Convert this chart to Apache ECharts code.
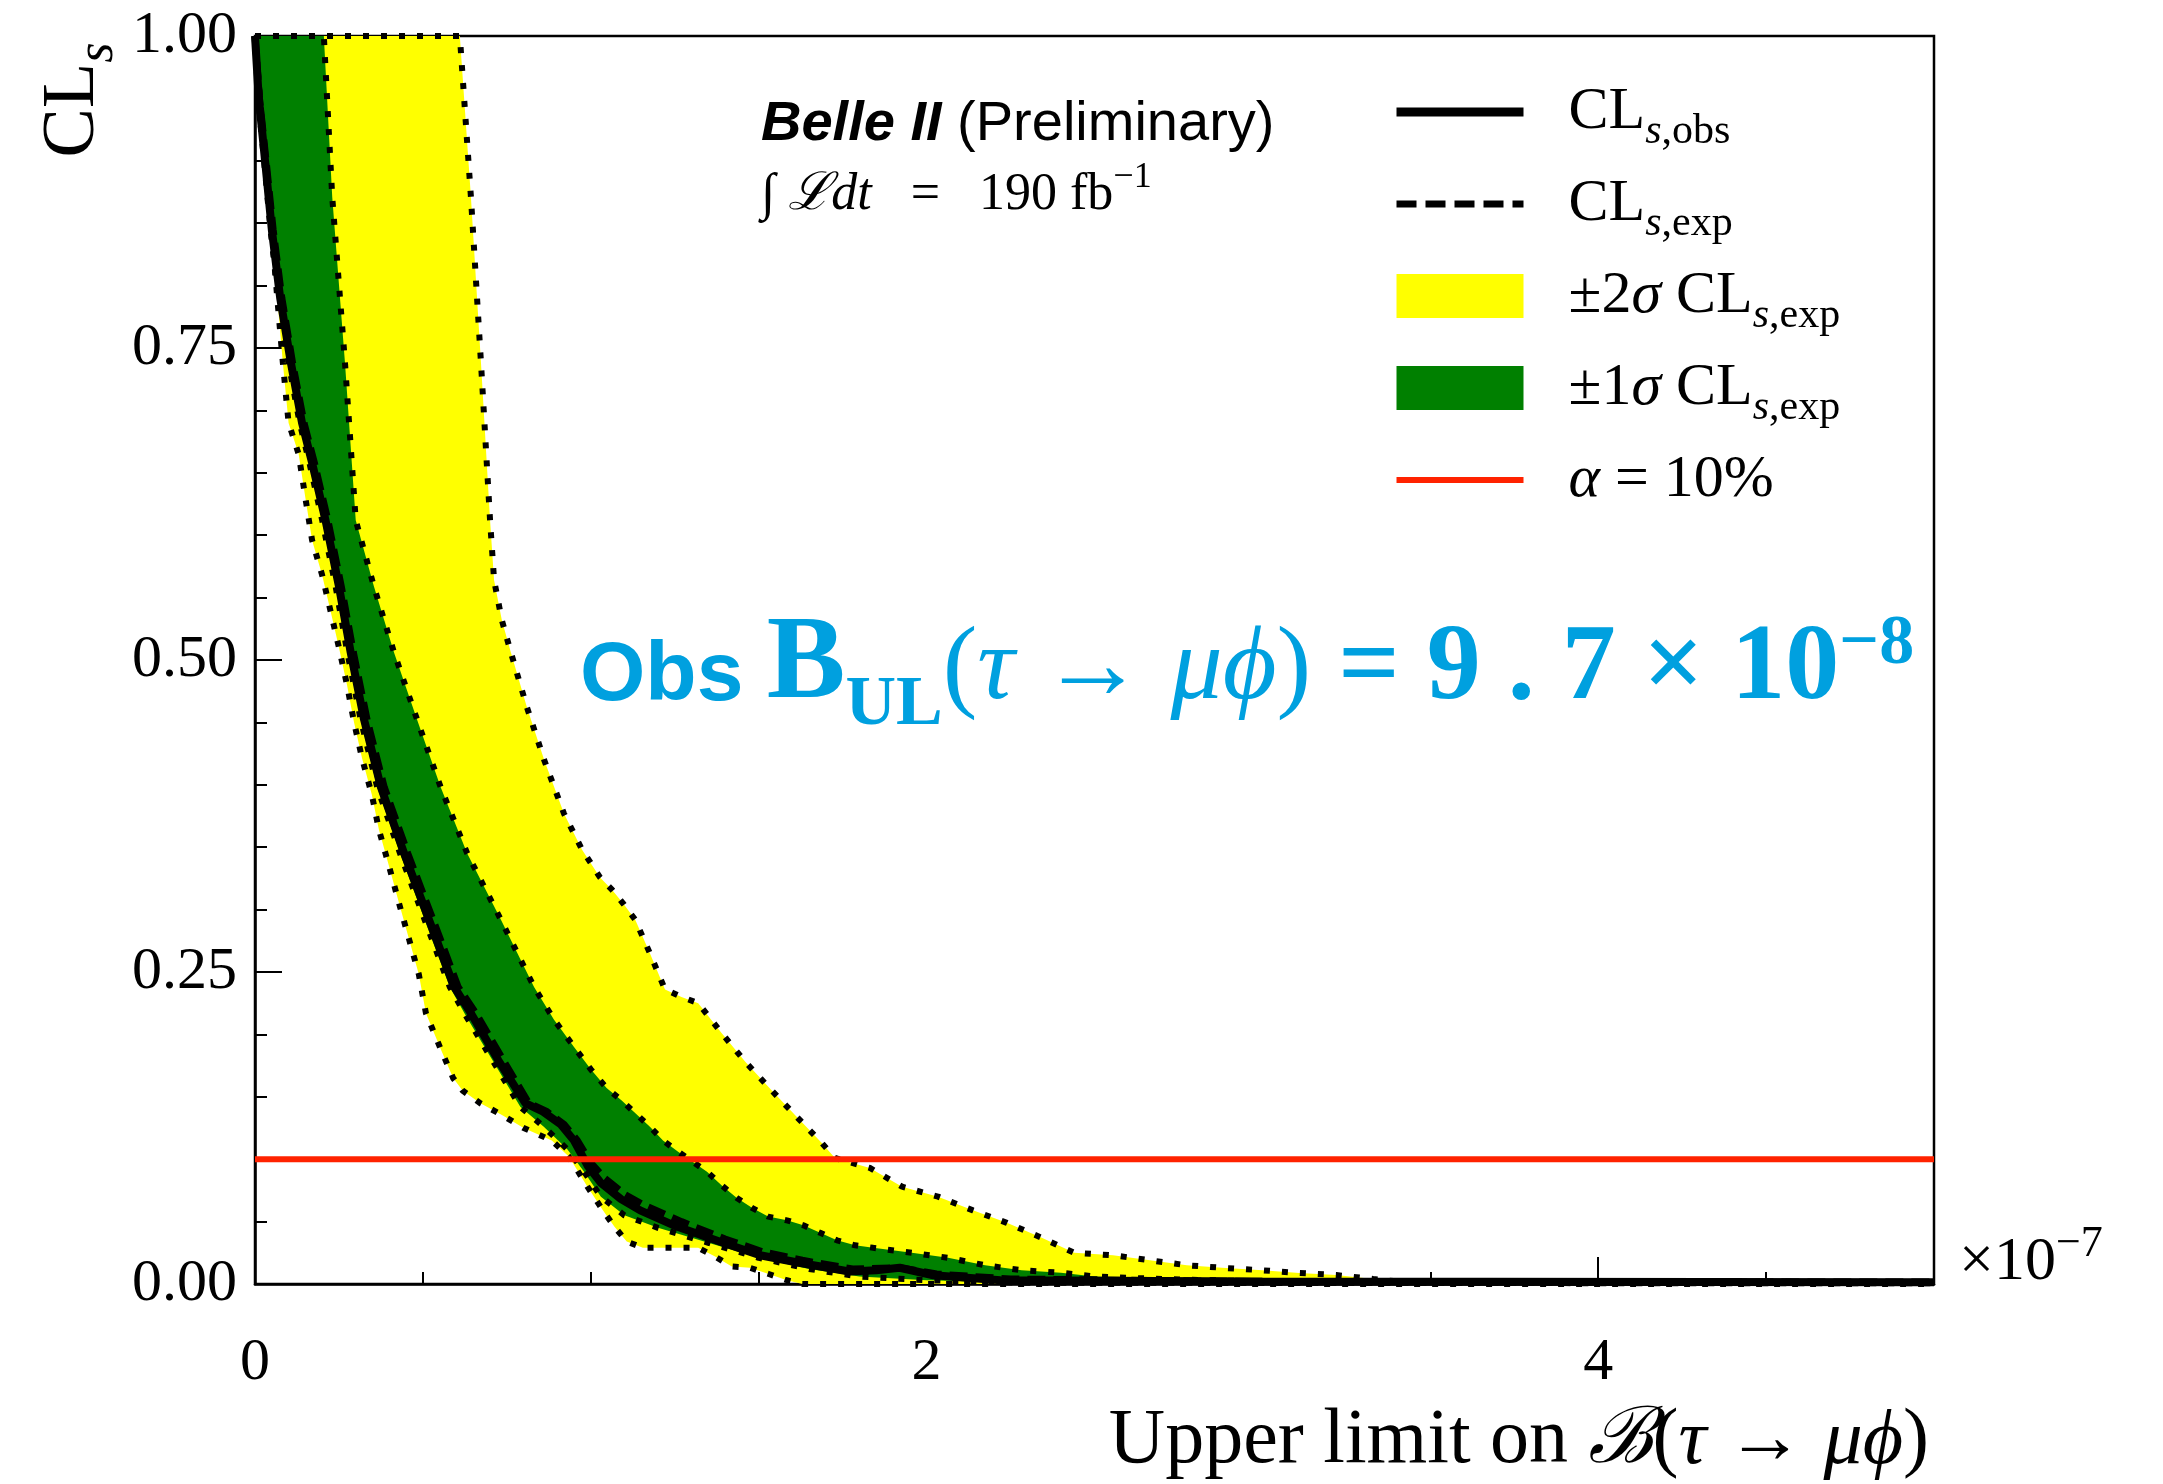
<!DOCTYPE html>
<html>
<head>
<meta charset="utf-8">
<title>CLs scan, tau -> mu phi</title>
<script src="https://cdn.jsdelivr.net/npm/echarts@6.0.0/dist/echarts.min.js"></script>
<style>
  html, body { margin: 0; padding: 0; background: #fff; }
  #chart { width: 2163px; height: 1484px; }
</style>
</head>
<body>
<div id="chart"></div>
<script>
// x in units of 1e-7, y = CLs
const obs = [[0, 1], [0.011, 0.951], [0.03, 0.9], [0.05, 0.845], [0.075, 0.79], [0.107, 0.738], [0.14, 0.69], [0.17, 0.658], [0.21, 0.612], [0.25, 0.559], [0.285, 0.506], [0.325, 0.452], [0.375, 0.398], [0.444, 0.345], [0.518, 0.292], [0.593, 0.238], [0.645, 0.216], [0.725, 0.179], [0.805, 0.145], [0.858, 0.138], [0.91, 0.128], [0.95, 0.115], [0.99, 0.095], [1.03, 0.081], [1.09, 0.068], [1.147, 0.059], [1.256, 0.046], [1.394, 0.033], [1.504, 0.023], [1.62, 0.017], [1.77, 0.01], [1.85, 0.011], [1.92, 0.013], [2.02, 0.007], [2.22, 0.003], [3, 0.002], [5, 0.0015]]
const exp = [[0, 1], [0.013, 0.951], [0.033, 0.9], [0.054, 0.845], [0.08, 0.79], [0.112, 0.738], [0.146, 0.69], [0.177, 0.658], [0.217, 0.612], [0.257, 0.559], [0.293, 0.506], [0.334, 0.452], [0.385, 0.398], [0.455, 0.345], [0.53, 0.292], [0.605, 0.238], [0.66, 0.216], [0.74, 0.179], [0.815, 0.145], [0.87, 0.138], [0.92, 0.128], [0.96, 0.115], [1.0, 0.097], [1.04, 0.085], [1.1, 0.072], [1.16, 0.063], [1.27, 0.05], [1.4, 0.036], [1.51, 0.026], [1.63, 0.019], [1.78, 0.012], [1.92, 0.013], [2.03, 0.008], [2.25, 0.004], [3, 0.002], [5, 0.0015]]
const up2 = [[0, 1], [0.61, 1], [0.643, 0.871], [0.673, 0.738], [0.70, 0.612], [0.712, 0.564], [0.735, 0.532], [0.762, 0.506], [0.81, 0.462], [0.861, 0.42], [0.92, 0.377], [0.974, 0.348], [1.027, 0.326], [1.063, 0.316], [1.096, 0.305], [1.132, 0.292], [1.176, 0.265], [1.221, 0.236], [1.27, 0.23], [1.32, 0.225], [1.39, 0.201], [1.46, 0.178], [1.539, 0.155], [1.613, 0.134], [1.688, 0.113], [1.727, 0.101], [1.831, 0.093], [1.927, 0.078], [2.034, 0.07], [2.138, 0.059], [2.239, 0.049], [2.343, 0.037], [2.44, 0.025], [2.555, 0.023], [2.665, 0.019], [2.775, 0.015], [2.88, 0.013], [3.0, 0.011], [3.11, 0.0088], [3.22, 0.0072], [3.33, 0.004], [3.39, 0.0024], [4, 0.002], [5, 0.0015]]
const up1 = [[0, 1], [0.205, 1], [0.23, 0.871], [0.268, 0.738], [0.30, 0.612], [0.354, 0.559], [0.414, 0.506], [0.483, 0.452], [0.553, 0.398], [0.632, 0.345], [0.732, 0.292], [0.831, 0.238], [0.89, 0.212], [0.95, 0.19], [1.0, 0.172], [1.047, 0.157], [1.092, 0.147], [1.132, 0.137], [1.176, 0.126], [1.215, 0.115], [1.26, 0.106], [1.346, 0.09], [1.39, 0.079], [1.435, 0.069], [1.48, 0.061], [1.528, 0.054], [1.584, 0.051], [1.633, 0.047], [1.683, 0.041], [1.733, 0.035], [1.787, 0.031], [1.841, 0.029], [1.956, 0.025], [2.064, 0.021], [2.174, 0.015], [2.283, 0.011], [2.4, 0.009], [2.5, 0.006], [2.7, 0.004], [3.0, 0.002], [5, 0.001]]
const lo1 = [[0, 1], [0.009, 0.951], [0.027, 0.9], [0.046, 0.845], [0.07, 0.79], [0.1, 0.738], [0.133, 0.69], [0.162, 0.658], [0.2, 0.612], [0.24, 0.559], [0.275, 0.506], [0.315, 0.452], [0.364, 0.398], [0.432, 0.345], [0.505, 0.292], [0.58, 0.238], [0.63, 0.214], [0.71, 0.178], [0.79, 0.142], [0.86, 0.126], [0.93, 0.108], [0.98, 0.09], [1.03, 0.07], [1.1, 0.055], [1.2, 0.045], [1.35, 0.033], [1.5, 0.021], [1.65, 0.012], [1.8, 0.006], [2.0, 0.003], [2.3, 0.001], [5, 0.0005]]
const lo2 = [[0, 1], [0.015, 0.95], [0.033, 0.898], [0.066, 0.791], [0.083, 0.738], [0.10, 0.69], [0.13, 0.665], [0.15, 0.63], [0.17, 0.596], [0.2, 0.568], [0.226, 0.538], [0.25, 0.51], [0.274, 0.48], [0.295, 0.45], [0.319, 0.421], [0.348, 0.392], [0.369, 0.364], [0.40, 0.334], [0.429, 0.305], [0.459, 0.276], [0.488, 0.248], [0.509, 0.217], [0.552, 0.189], [0.59, 0.165], [0.618, 0.155], [0.67, 0.145], [0.738, 0.135], [0.80, 0.125], [0.884, 0.115], [0.935, 0.102], [0.99, 0.078], [1.036, 0.059], [1.07, 0.046], [1.107, 0.034], [1.155, 0.029], [1.32, 0.029], [1.37, 0.022], [1.42, 0.014], [1.474, 0.013], [1.53, 0.008], [1.584, 0.003], [1.63, 0], [5, 0]]
const alphaLine = [[0, 0.1], [5, 0.1]]

const serif = "'Liberation Serif', 'DejaVu Serif', serif"
const sans = "'Liberation Sans', Arial, sans-serif"
const blue = '#00a0df'
const dotted = { color: '#000', width: 6, type: [6, 12], cap: 'butt' }

const legendText = {
  obs: '{g| }{m|CL}{si|s}{s|,obs}',
  exp: '{g| }{m|CL}{si|s}{s|,exp}',
  band2: '{g| }{m|±2}{mi|σ}{m| CL}{si|s}{s|,exp}',
  band1: '{g| }{m|±1}{mi|σ}{m| CL}{si|s}{s|,exp}',
  alpha: '{g| }{mi|α}{m| = 10%}'
}

function band(upper, lower, color) {
  return function(params, api) {
    const pts = upper.concat(lower.slice().reverse()).map(p => api.coord(p))
    return { type: 'polygon', shape: { points: pts }, style: { fill: color }}
  }
}

function edge(name, data) {
  return { type: 'line', name: name, data: data, symbol: 'none', z: 3, lineStyle: dotted, silent: true }
}

const chart = echarts.init(document.getElementById('chart'))
chart.setOption({
  animation: false,
  grid: { left: 255, top: 36, width: 1679, height: 1248, show: true, borderColor: '#000', borderWidth: 2.5 },
  xAxis: [
    {
      type: 'value', min: 0, max: 5, interval: 2,
      axisLine: { lineStyle: { color: '#000', width: 2.5 }},
      axisTick: { inside: true, length: 27, lineStyle: { color: '#000', width: 2 }},
      axisLabel: { color: '#000', fontFamily: serif, fontSize: 60, margin: 49, formatter: v => (v === 5 ? '' : String(v)) },
      splitLine: { show: false }
    },
    {
      type: 'value', min: 0, max: 5, interval: 0.5, position: 'bottom',
      axisLine: { show: false },
      axisTick: { inside: true, length: 12, lineStyle: { color: '#000', width: 2 }},
      axisLabel: { show: false },
      splitLine: { show: false }
    }
  ],
  yAxis: {
    type: 'value', min: 0, max: 1, interval: 0.25,
    axisLine: { show: true, lineStyle: { color: '#000', width: 2.5 }},
    axisTick: { show: true, inside: true, length: 27, lineStyle: { color: '#000', width: 2 }},
    minorTick: { show: true, splitNumber: 5, length: 12, lineStyle: { color: '#000', width: 2 }},
    axisLabel: { color: '#000', fontFamily: serif, fontSize: 60, margin: 18, formatter: v => v.toFixed(2) },
    splitLine: { show: false }
  },
  legend: {
    orient: 'vertical', left: 1392, top: 82, padding: 0, itemGap: 21,
    itemWidth: 127, itemHeight: 44, selectedMode: false,
    data: [
      { name: 'obs', itemStyle: { opacity: 0 }, lineStyle: { color: '#000', width: 9 }},
      { name: 'exp', itemStyle: { opacity: 0 }, lineStyle: { color: '#000', width: 7, type: [20, 9] }},
      { name: 'band2', icon: 'rect', itemStyle: { color: '#ffff00' }},
      { name: 'band1', icon: 'rect', itemStyle: { color: '#008000' }},
      { name: 'alpha', itemStyle: { opacity: 0 }, lineStyle: { color: '#ff2200', width: 6 }}
    ],
    formatter: name => legendText[name],
    textStyle: {
      color: '#000',
      rich: {
        g: { width: 40, fontSize: 10 },
        m: { fontFamily: serif, fontSize: 60, padding: [12, 0, 12, 0], verticalAlign: 'bottom' },
        mi: { fontFamily: serif, fontSize: 60, fontStyle: 'italic', padding: [12, 0, 12, 0], verticalAlign: 'bottom' },
        si: { fontFamily: serif, fontSize: 42, fontStyle: 'italic', padding: [0, 0, 1, 0], verticalAlign: 'bottom' },
        s: { fontFamily: serif, fontSize: 42, padding: [0, 0, 1, 0], verticalAlign: 'bottom' }
      }
    }
  },
  graphic: [
    {
      type: 'text', x: 74, y: 100, rotation: Math.PI / 2,
      style: {
        text: '{m|CL}{s|s}', align: 'center', verticalAlign: 'middle',
        rich: {
          m: { fontFamily: serif, fontSize: 74, padding: [16, 0, 16, 0], verticalAlign: 'bottom' },
          s: { fontFamily: serif, fontSize: 52, fontStyle: 'italic', padding: [0, 0, 3, 0], verticalAlign: 'bottom' }
        }
      }
    },
    {
      type: 'text', right: 234, top: 1403,
      style: {
        text: '{m|Upper limit on }{c|ℬ}{m|(}{i|τ}{m| → }{i|μϕ}{m|)}',
        rich: {
          m: { fontFamily: serif, fontSize: 78 },
          c: { fontFamily: "'DejaVu Serif', serif", fontStyle: 'italic', fontSize: 78 },
          i: { fontFamily: serif, fontStyle: 'italic', fontSize: 78 }
        }
      }
    },
    {
      type: 'text', left: 1959, top: 1222,
      style: {
        text: '{m|×10}{u|−7}',
        rich: {
          m: { fontFamily: serif, fontSize: 62, padding: [10, 0, 10, 0], verticalAlign: 'bottom' },
          u: { fontFamily: serif, fontSize: 44, padding: [0, 0, 38, 0], verticalAlign: 'bottom' }
        }
      }
    },
    {
      type: 'text', left: 761, top: 97,
      style: {
        text: '{b|Belle II}{n| (Preliminary)}',
        rich: {
          b: { fontFamily: sans, fontWeight: 'bold', fontStyle: 'italic', fontSize: 56 },
          n: { fontFamily: sans, fontSize: 56 }
        }
      }
    },
    {
      type: 'text', left: 761, top: 160,
      style: {
        text: '{m|∫ }{i|ℒdt}{m|   =   190 fb}{u|−1}',
        rich: {
          m: { fontFamily: serif, fontSize: 52, padding: [10, 0, 10, 0], verticalAlign: 'bottom' },
          i: { fontFamily: serif, fontStyle: 'italic', fontSize: 52, padding: [10, 0, 10, 0], verticalAlign: 'bottom' },
          u: { fontFamily: serif, fontSize: 36, padding: [0, 0, 35, 0], verticalAlign: 'bottom' }
        }
      }
    },
    {
      type: 'text', left: 580, top: 608,
      style: {
        text: '{o|Obs }{b|B}{ul|UL}{p|(}{i|τ}{p| → }{i|μϕ}{p|)}{d| = 9 . 7 × 10}{u|−8}',
        fill: blue,
        rich: {
          o: { fontFamily: sans, fontWeight: 'bold', fontSize: 84, color: blue, padding: [0, 0, 33, 0], verticalAlign: 'bottom' },
          b: { fontFamily: serif, fontWeight: 'bold', fontSize: 118, color: blue, padding: [0, 0, 26, 0], verticalAlign: 'bottom' },
          ul: { fontFamily: serif, fontWeight: 'bold', fontSize: 70, color: blue, padding: [0, 0, 11, 0], verticalAlign: 'bottom' },
          p: { fontFamily: serif, fontSize: 104, color: blue, padding: [0, 0, 29, 0], verticalAlign: 'bottom' },
          i: { fontFamily: serif, fontStyle: 'italic', fontSize: 104, color: blue, padding: [0, 0, 29, 0], verticalAlign: 'bottom' },
          d: { fontFamily: serif, fontWeight: 'bold', fontSize: 108, color: blue, padding: [0, 0, 28, 0], verticalAlign: 'bottom' },
          u: { fontFamily: serif, fontWeight: 'bold', fontSize: 70, color: blue, padding: [0, 0, 72, 0], verticalAlign: 'bottom' }
        }
      }
    }
  ],
  series: [
    { type: 'custom', name: 'band2', renderItem: band(up2, lo2, '#ffff00'), data: [[0, 0]], itemStyle: { color: '#ffff00' }, z: 1, silent: true },
    { type: 'custom', name: 'band1', renderItem: band(up1, lo1, '#008000'), data: [[0, 0]], itemStyle: { color: '#008000' }, z: 2, silent: true },
    edge('up2 edge', up2),
    edge('lo2 edge', lo2),
    edge('up1 edge', up1),
    edge('lo1 edge', lo1),
    { type: 'line', name: 'exp', data: exp, symbol: 'none', z: 4, itemStyle: { color: '#000' }, lineStyle: { color: '#000', width: 7, type: [18, 8] }},
    { type: 'line', name: 'obs', data: obs, symbol: 'none', z: 5, itemStyle: { color: '#000' }, lineStyle: { color: '#000', width: 8 }},
    { type: 'line', name: 'alpha', data: alphaLine, symbol: 'none', z: 6, itemStyle: { color: '#ff2200' }, lineStyle: { color: '#ff2200', width: 6 }}
  ]
})
</script>
</body>
</html>
